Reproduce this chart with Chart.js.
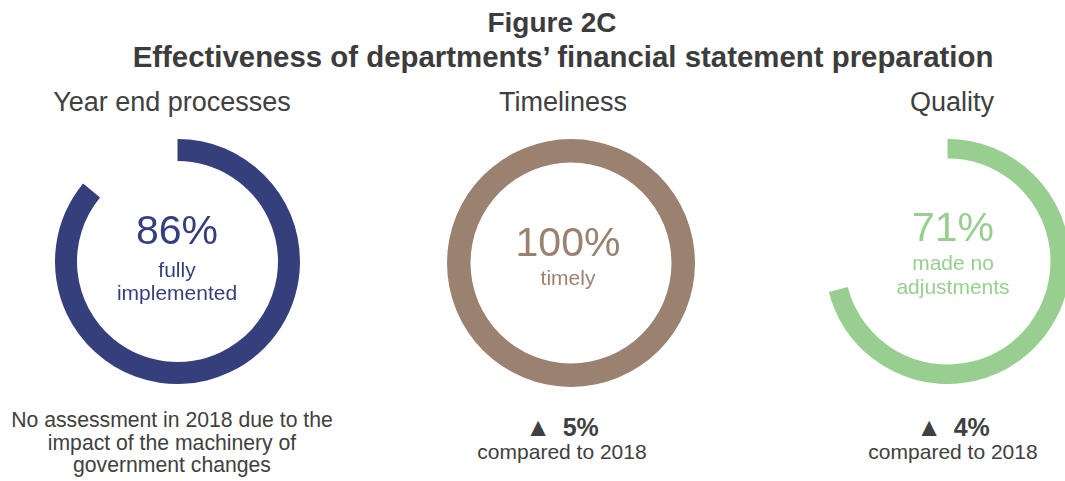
<!DOCTYPE html>
<html>
<head>
<meta charset="utf-8">
<script src="https://cdn.jsdelivr.net/npm/chart.js@4"></script>
<style>
  html, body { margin: 0; padding: 0; background: #fff; overflow: hidden; }
  #wrap { position: relative; width: 1065px; height: 481px; overflow: hidden; font-family: "Liberation Sans", Arial, sans-serif; }
  .t { position: absolute; white-space: nowrap; line-height: 1; transform: translateX(-50%); }
  canvas { position: absolute; }
</style>
</head>
<body>
<div id="wrap"></div>
<script>
// ---- data ----
const titleLines = ['Figure 2C', 'Effectiveness of departments\u2019 financial statement preparation'];
const categories = ['Year end processes', 'Timeliness', 'Quality'];
const values = [86, 100, 71];
const valueLabels = ['86%', '100%', '71%'];
const centerLabels = [['fully', 'implemented'], ['timely'], ['made no', 'adjustments']];
const changes = [null, '5%', '4%'];
const changeNote = 'compared to 2018';
const noAssessmentNote = ['No assessment in 2018 due to the', 'impact of the machinery of', 'government changes'];
const colors = ['#353f7c', '#9b8170', '#98cf90'];

// ---- layout ----
const wrap = document.getElementById('wrap');
const textColor = '#404040';
function txt(html, x, baseline, size, opts = {}) {
  const d = document.createElement('div');
  d.className = 't';
  d.innerHTML = html;
  d.style.left = x + 'px';
  d.style.top = (baseline - 0.8465 * size) + 'px';
  d.style.fontSize = size + 'px';
  d.style.color = opts.color || textColor;
  if (opts.bold) d.style.fontWeight = 'bold';
  wrap.appendChild(d);
}

txt(titleLines[0], 552, 33, 28, { bold: true, color: '#3c3c3c' });
txt(titleLines[1], 563, 67, 29.4, { bold: true, color: '#3c3c3c' });

const rings = [
  { cx: 177, cy: 261.5, r: 122.5, inner: 100.5, tx: 172, lx: 177 },
  { cx: 571, cy: 263, r: 124, inner: 100.5, tx: 563, lx: 568 },
  { cx: 947, cy: 261, r: 122.5, inner: 103, tx: 952, lx: 953 }
];
const valueBase = [245, 257, 242];
const labelBase = [[277, 300], [285], [270, 294]];

rings.forEach((g, i) => {
  txt(categories[i], g.tx, 112, 27);
  const c = document.createElement('canvas');
  const size = Math.round(g.r * 2);
  c.width = size; c.height = size;
  c.style.width = size + 'px'; c.style.height = size + 'px';
  c.style.left = (g.cx - size / 2) + 'px';
  c.style.top = (g.cy - size / 2) + 'px';
  wrap.appendChild(c);
  new Chart(c, {
    type: 'doughnut',
    data: {
      labels: [categories[i], ''],
      datasets: [{
        data: [values[i], 100 - values[i]],
        backgroundColor: [colors[i], 'rgba(0,0,0,0)'],
        borderWidth: 0,
        hoverOffset: 0,
        offset: 0
      }]
    },
    options: {
      responsive: false,
      animation: false,
      cutout: g.inner,
      layout: { padding: 0 },
      events: [],
      plugins: { legend: { display: false }, tooltip: { enabled: false }, title: { display: false } }
    }
  });
  txt(valueLabels[i], g.lx, valueBase[i], 41, { color: colors[i] });
  centerLabels[i].forEach((l, k) => txt(l, g.lx, labelBase[i][k], 21, { color: colors[i] }));
});

noAssessmentNote.forEach((l, k) => txt(l, 172, 427 + k * 22.5, 21.2));
[1, 2].forEach(i => {
  const x = i === 1 ? 562 : 953;
  txt('<span style="font-size:26px">\u25B2</span>&nbsp;&nbsp;<b style="font-size:25px">' + changes[i] + '</b>', x, 432, 21);
  txt(changeNote, x, 459, 21);
});
</script>
</body>
</html>
